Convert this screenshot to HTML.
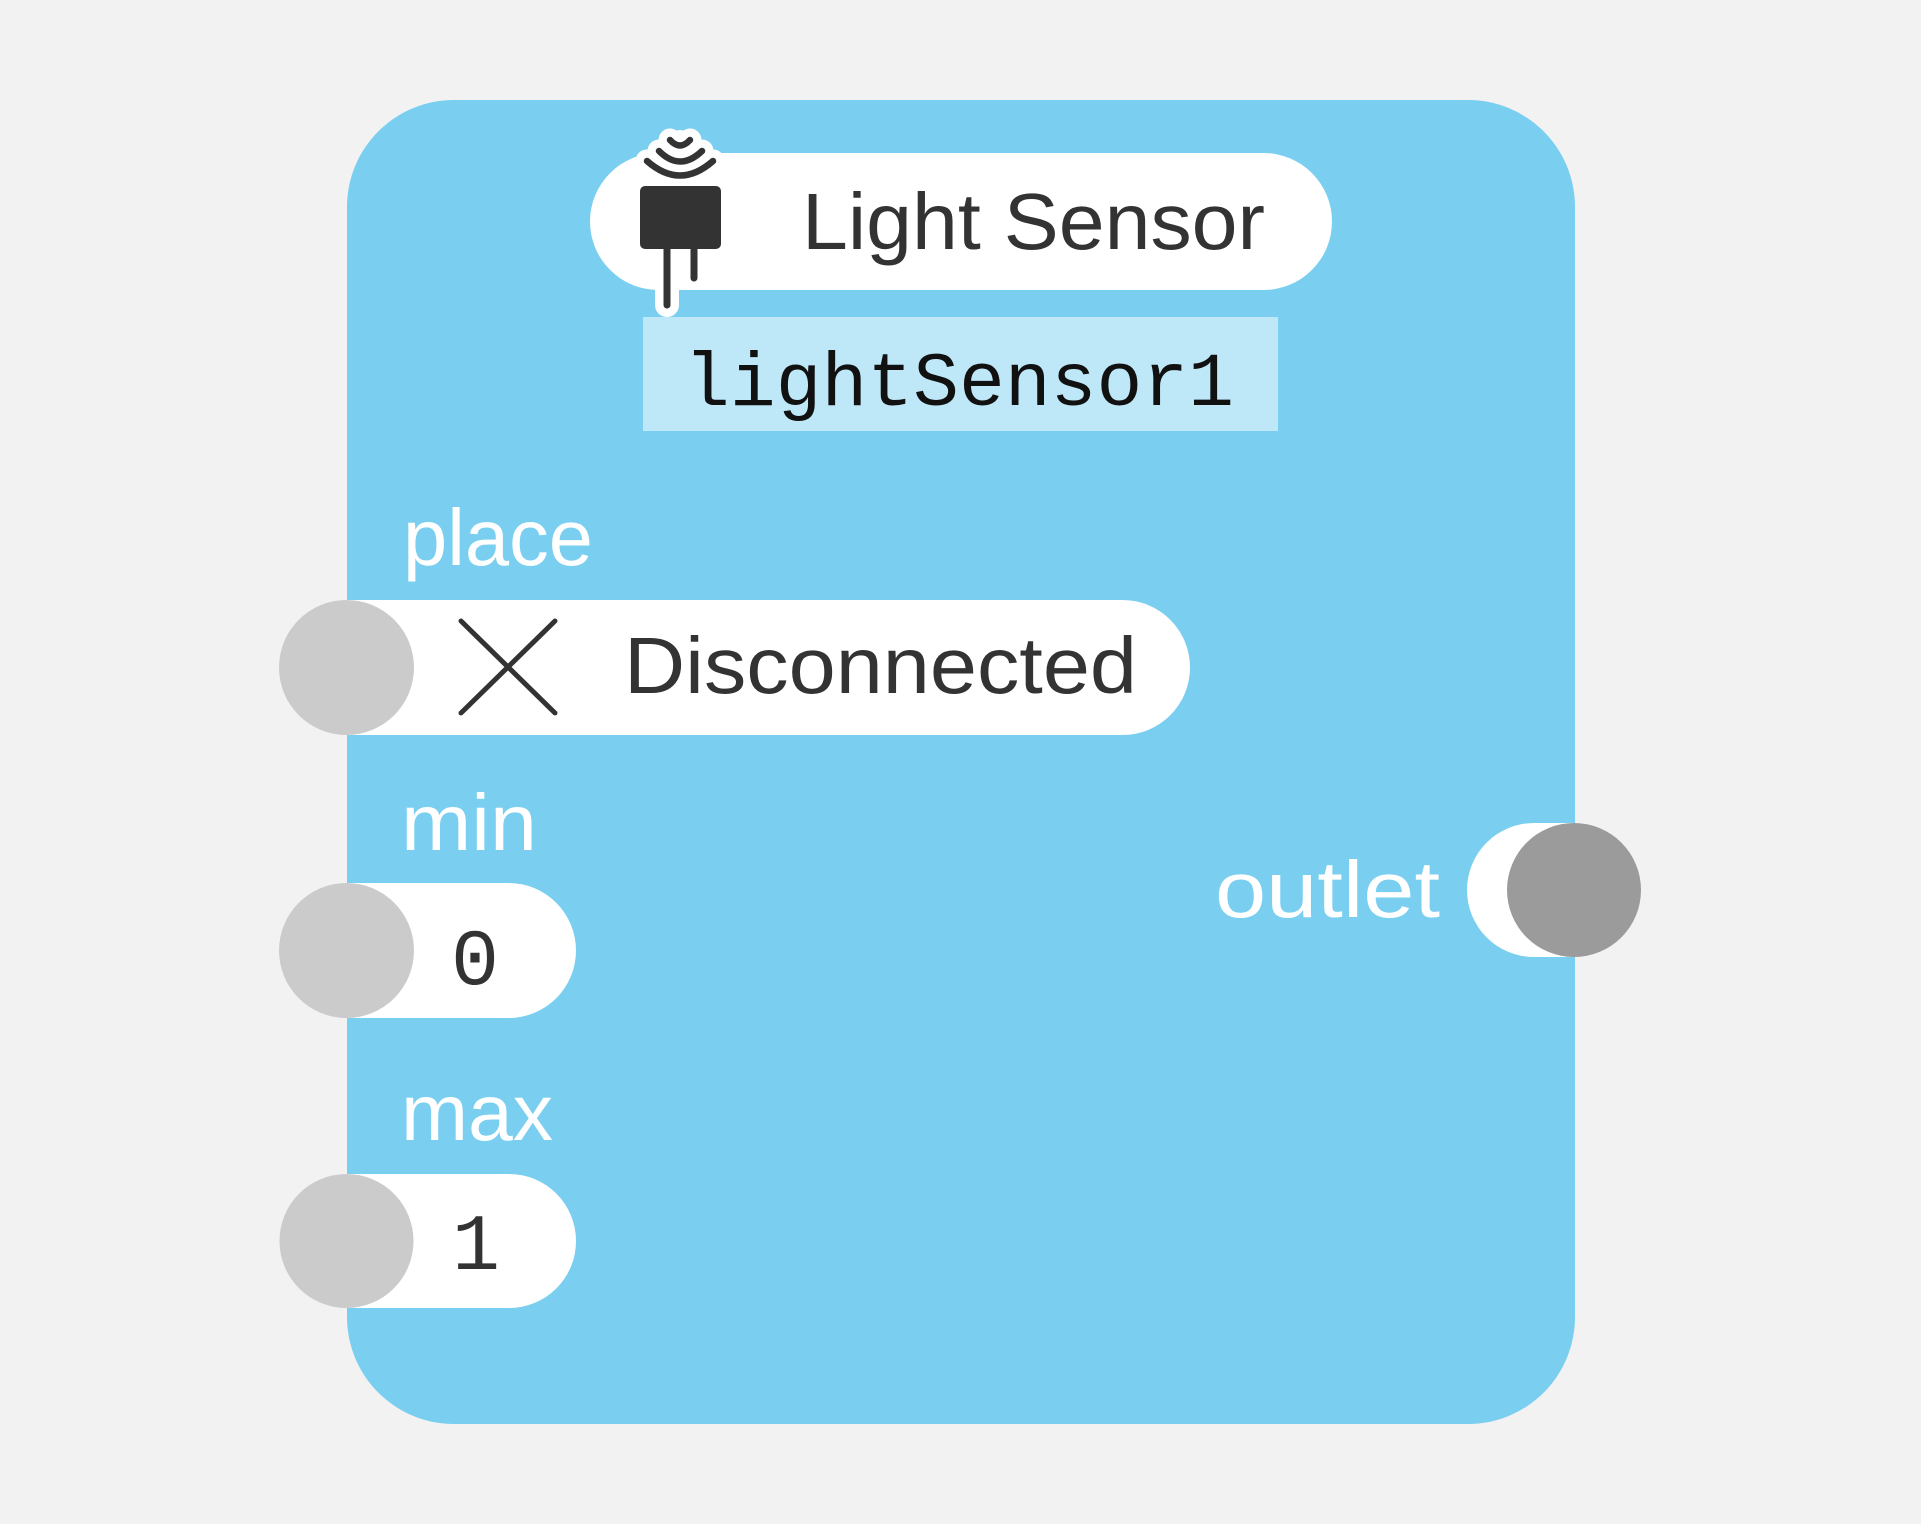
<!DOCTYPE html>
<html>
<head>
<meta charset="utf-8">
<style>
  html, body { margin: 0; padding: 0; background: #f2f2f2; }
  svg { display: block; }
  .sans { font-family: "Liberation Sans", "DejaVu Sans", sans-serif; }
  .mono { font-family: "Liberation Mono", "DejaVu Sans Mono", monospace; }
</style>
</head>
<body>
<svg width="1921" height="1524" viewBox="0 0 1921 1524" xmlns="http://www.w3.org/2000/svg">
  <rect x="0" y="0" width="1921" height="1524" fill="#f2f2f2"/>

  <!-- main node body -->
  <rect x="347" y="100" width="1228" height="1324" rx="107" ry="107" fill="#7acff0"/>

  <!-- title pill -->
  <rect x="590" y="153" width="742" height="137" rx="68.5" ry="68.5" fill="#ffffff"/>

  <!-- icon white outline -->
  <g stroke="#ffffff" fill="#ffffff" stroke-linecap="round" stroke-linejoin="round">
    <rect x="640" y="186" width="81" height="63" rx="5" stroke-width="18"/>
    <line x1="667" y1="249" x2="667" y2="305" stroke-width="24"/>
    <line x1="694" y1="249" x2="694" y2="278" stroke-width="24"/>
    <path d="M647,161 Q680,190 713,161" fill="none" stroke-width="23"/>
    <path d="M659,151 Q680,172 702,151" fill="none" stroke-width="23"/>
    <path d="M670,140 Q680,151 690,140" fill="none" stroke-width="23"/>
    <path d="M660,160 L700,160 L680,140 Z" stroke-width="20"/>
  </g>
  <!-- icon dark -->
  <g stroke="#333333" fill="#333333" stroke-linecap="round" stroke-linejoin="round">
    <rect x="640" y="186" width="81" height="63" rx="5" stroke-width="0"/>
    <line x1="667" y1="249" x2="667" y2="305" stroke-width="7"/>
    <line x1="694" y1="249" x2="694" y2="278" stroke-width="7"/>
    <path d="M647,161 Q680,190 713,161" fill="none" stroke-width="6.5"/>
    <path d="M659,151 Q680,172 702,151" fill="none" stroke-width="6.5"/>
    <path d="M670,140 Q680,151 690,140" fill="none" stroke-width="6.5"/>
  </g>

  <text class="sans" x="802" y="249" font-size="80" fill="#333333" textLength="463" lengthAdjust="spacingAndGlyphs">Light Sensor</text>

  <!-- instance name box -->
  <rect x="643" y="317" width="635" height="114" fill="#bee8f8"/>
  <text class="mono" x="684" y="405" font-size="76" fill="#111111" textLength="550" lengthAdjust="spacingAndGlyphs">lightSensor1</text>

  <!-- place -->
  <text class="sans" x="403" y="565" font-size="80" fill="#ffffff" textLength="190" lengthAdjust="spacingAndGlyphs">place</text>
  <path d="M347,600 H1122.5 A67.5,67.5 0 0 1 1122.5,735 H347 Z" fill="#ffffff"/>
  <circle cx="346.5" cy="667.5" r="67.5" fill="#cbcbcb"/>
  <g stroke="#333333" stroke-width="5" stroke-linecap="round">
    <line x1="461" y1="621" x2="555" y2="713"/>
    <line x1="555" y1="621" x2="461" y2="713"/>
  </g>
  <text class="sans" x="624" y="693" font-size="80" fill="#333333" textLength="513" lengthAdjust="spacingAndGlyphs">Disconnected</text>

  <!-- min -->
  <text class="sans" x="401" y="850" font-size="80" fill="#ffffff" textLength="136" lengthAdjust="spacingAndGlyphs">min</text>
  <path d="M347,883 H508.5 A67.5,67.5 0 0 1 508.5,1018 H347 Z" fill="#ffffff"/>
  <circle cx="346.5" cy="950.5" r="67.5" fill="#cbcbcb"/>
  <text class="mono" x="475" y="984" font-size="80" fill="#333333" text-anchor="middle">0</text>

  <!-- max -->
  <text class="sans" x="401" y="1140" font-size="80" fill="#ffffff" textLength="152" lengthAdjust="spacingAndGlyphs">max</text>
  <path d="M347,1174 H509 A67,67 0 0 1 509,1308 H347 Z" fill="#ffffff"/>
  <circle cx="346.5" cy="1241" r="67" fill="#cbcbcb"/>
  <text class="mono" x="476" y="1269" font-size="80" fill="#333333" text-anchor="middle">1</text>

  <!-- outlet -->
  <text class="sans" x="1215" y="917" font-size="80" fill="#ffffff" textLength="225" lengthAdjust="spacingAndGlyphs">outlet</text>
  <path d="M1574,823 H1534 A67,67 0 0 0 1534,957 H1574 Z" fill="#ffffff"/>
  <circle cx="1574" cy="890" r="67" fill="#9b9b9b"/>
</svg>
</body>
</html>
